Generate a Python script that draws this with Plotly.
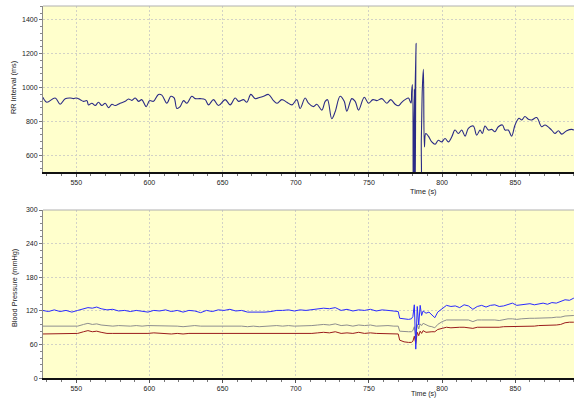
import plotly.graph_objects as go

# ---------------- RR interval (ms) ----------------
rr_time = [527.2, 529.9, 535.6, 539.0, 542.5, 545.9, 548.2, 550.0, 552.7, 555.0, 557.3, 558.4, 560.7,
           563.0, 565.2, 567.5, 569.8, 572.1, 574.4, 576.6, 580.0, 583.5, 585.7, 588.0, 590.3, 592.6,
           594.8, 597.8, 600.1, 602.8, 606.2, 608.5, 611.9, 614.7, 616.9, 618.8, 621.0, 623.3, 625.6,
           629.0, 631.3, 634.7, 638.1, 640.4, 643.8, 647.2,
           651.8, 655.2, 658.6, 660.9, 664.3, 666.6, 669.3, 672.3, 675.7, 678.0, 681.4, 684.8, 687.1,
           690.5, 693.9, 697.4, 700.7, 703.0, 706.4, 708.7, 712.1, 714.4, 717.8, 720.1, 721.7, 724.6,
           726.9, 730.3, 733.1, 734.9, 738.3, 740.6, 742.9, 746.8, 749.7, 752.7, 755.4, 758.8, 762.2,
           764.9, 767.9,
           770.1, 772.4, 774.7, 777.0, 778.1, 778.8, 779.2, 779.7, 780.3, 781.0, 781.5, 782.2, 782.9,
           784.5, 785.8, 786.5, 787.2, 787.9, 788.8, 790.6, 792.9, 795.2, 797.4, 799.7, 802.0, 804.3,
           806.6, 808.8, 811.1, 813.4, 815.7, 817.9, 821.3, 823.6, 825.9, 827.5, 829.3, 831.6, 833.9,
           836.1, 838.4, 841.2, 843.0, 845.2, 847.5, 849.8, 852.5, 854.4, 856.6, 858.9, 861.2, 864.6,
           868.0, 870.3, 874.8, 877.1, 879.4, 881.7, 885.1, 888.5, 890.1]
rr_ms = [942, 913, 938, 901, 934, 938, 934, 938, 928, 918, 922, 897, 907,
         893, 913, 893, 907, 881, 901, 893, 907, 918, 932, 924, 938, 918,
         928, 887, 922, 918, 959, 955, 907, 948, 938, 876, 887, 922, 907,
         948, 934, 934, 928, 897, 928, 893,
         928, 897, 938, 918, 928, 913, 959, 934, 942, 948, 959, 922, 907,
         928, 913, 897, 928, 876, 938, 907, 887, 901, 866, 918, 928, 815,
         856, 948, 918, 860, 934, 918, 866, 942, 907, 928, 922, 934, 907,
         928, 901,
         892, 912, 928, 938, 918, 908, 978, 1018, 300, 990, 300, 1262, 300,
         300, 700, 1000, 1108, 648, 728, 712, 678, 664, 688, 678, 698, 678,
         708, 748, 728, 748, 712, 758, 772, 718, 748, 728, 772, 748, 752,
         738, 768, 778, 748, 748, 712, 778, 818, 808, 828, 812, 808, 822,
         768, 778, 748, 728, 744, 724, 744, 752, 748]

# ---------------- Blood pressure (mmHg) ----------------
bp_time = [527, 531, 535, 539, 543, 547, 551, 555, 558, 561, 564, 567, 571, 575, 579, 583, 587, 591,
           595, 599, 603, 607, 611, 615, 619, 623, 627, 631, 635, 639, 643, 647, 651, 655, 659, 663,
           667, 671, 675, 679, 683, 687, 691, 695, 699, 703, 707, 711, 715, 719, 723, 727, 731, 735,
           739, 743, 747, 751, 755, 759, 763, 767, 770, 771, 774, 777, 779, 780, 781, 782, 783, 784,
           785, 786, 787, 789, 791, 793, 795, 797, 800, 803, 806, 809, 812, 815, 818, 821, 824, 827,
           830, 833, 836, 839, 842, 845, 848, 851, 854, 857, 860, 863, 866, 869, 872, 875, 878, 881,
           884, 887, 890]
bp_sys = [121, 119, 122, 119, 121, 118, 121, 124, 126, 125, 127, 124, 122, 123, 120, 121, 119, 121,
          120, 118, 121, 120, 122, 119, 121, 118, 121, 120, 117, 121, 119, 122, 121, 123, 120, 121,
          118, 118, 117, 118, 119, 121, 121, 122, 120, 122, 121, 122, 124, 125, 124, 126, 121, 123,
          120, 122, 121, 123, 120, 122, 121, 120, 119, 107, 106, 105, 106, 110, 131, 52, 128, 95,
          130, 112, 120, 116, 118, 113, 108, 118, 124, 130, 128, 129, 126, 131, 129, 123, 128, 130,
          127, 130, 131, 128, 129, 132, 134, 130, 131, 132, 133, 131, 133, 134, 132, 135, 134, 137,
          140, 139, 143]
bp_mean = [93, 93, 93, 93, 94, 93, 93, 96, 98, 96, 97, 95, 94, 93, 94, 93, 93, 94,
           93, 94, 94, 93, 94, 93, 93, 92, 93, 94, 93, 93, 93, 93, 94, 93, 94, 93,
           92, 93, 92, 93, 93, 94, 93, 94, 93, 93, 94, 94, 95, 96, 95, 97, 94, 95,
           93, 95, 94, 95, 93, 94, 94, 93, 93, 84, 83, 83, 83, 85, 92, 75, 96, 88,
           97, 94, 98, 95, 93, 92, 90, 96, 101, 104, 104, 104, 104, 103, 104, 101, 104, 104,
           104, 105, 104, 103, 105, 106, 106, 105, 106, 107, 107, 107, 107, 108, 107, 108, 109, 109,
           111, 112, 112]
bp_dia = [79, 79, 80, 79, 79, 79, 80, 83, 85, 83, 84, 82, 80, 80, 80, 79, 80, 79,
          80, 80, 81, 80, 80, 79, 80, 79, 80, 80, 79, 80, 79, 80, 79, 80, 79, 79,
          79, 79, 79, 79, 80, 80, 79, 80, 80, 79, 80, 80, 81, 82, 81, 83, 80, 81,
          80, 82, 80, 81, 80, 80, 80, 80, 79, 68, 65, 64, 64, 66, 75, 62, 82, 76,
          84, 80, 85, 82, 83, 83, 83, 87, 89, 91, 90, 91, 91, 91, 90, 89, 91, 91,
          91, 91, 90, 91, 92, 92, 92, 92, 92, 93, 93, 93, 94, 94, 94, 95, 95, 96,
          99, 100, 100]

x_ticks = [550, 600, 650, 700, 750, 800, 850]
rr_ticks = [600, 800, 1000, 1200, 1400]
bp_ticks = [0, 60, 120, 180, 240, 300]

W, H = 574, 398
L = 43

def py(p):  # pixel row -> paper y
    return (H - p) / H

def px(p):  # pixel column -> paper x
    return (p - L) / (W - L)

FONT = "Liberation Sans"
tickfont = dict(family=FONT, size=7, color="#222222")
GRID = "#d2d2c6"
LBL = dict(family=FONT, size=7.3, color="#222222")

fig = go.Figure()
fig.add_trace(go.Scatter(x=rr_time, y=rr_ms, mode="lines", line=dict(color="#2b2b86", width=1.1),
                         line_shape="spline", xaxis="x", yaxis="y", showlegend=False))
fig.add_trace(go.Scatter(x=bp_time, y=bp_mean, mode="lines", line=dict(color="#8e8e8e", width=1),
                         xaxis="x2", yaxis="y2", showlegend=False))
fig.add_trace(go.Scatter(x=bp_time, y=bp_dia, mode="lines", line=dict(color="#9a1c1c", width=1),
                         xaxis="x2", yaxis="y2", showlegend=False))
fig.add_trace(go.Scatter(x=bp_time, y=bp_sys, mode="lines", line=dict(color="#2a2aff", width=1),
                         xaxis="x2", yaxis="y2", showlegend=False))

def xax(anchor):
    return dict(range=[527.3, 890.1], domain=[0, 1], anchor=anchor, tickvals=x_ticks,
                automargin=False,
                showgrid=True, gridcolor=GRID, griddash="2px,2px", gridwidth=1,
                showline=True, linecolor="#111111", linewidth=1.5, ticks="outside",
                ticklen=3, tickcolor="#555555", tickfont=tickfont, zeroline=False,
                minor=dict(dtick=10, tick0=0, ticks="outside", ticklen=2, tickcolor="#777777",
                           showgrid=False))

def yax(anchor, rng, ticks, minor, dom):
    return dict(range=rng, domain=dom, anchor=anchor, tickvals=ticks,
                automargin=False,
                showgrid=True, gridcolor=GRID, griddash="2px,2px", gridwidth=1,
                showline=True, linecolor="#8a8a8a", linewidth=1, mirror=False,
                ticks="outside", ticklen=3, tickcolor="#777777", tickfont=tickfont,
                zeroline=False,
                minor=dict(dtick=minor, tick0=0, ticks="outside", ticklen=2,
                           tickcolor="#888888", showgrid=False))

def ann(text, x, y, angle=0, size=7.3):
    return dict(text=text, x=px(x), y=py(y), xref="paper", yref="paper",
                xanchor="center", yanchor="middle", textangle=angle, showarrow=False,
                font=dict(family=FONT, size=size, color="#222222"))

fig.update_layout(
    width=W, height=H,
    margin=dict(l=L, r=0, t=0, b=0, autoexpand=False),
    paper_bgcolor="white",
    plot_bgcolor="#FFFFCC",
    xaxis=xax("y"),
    yaxis=yax("x", [500, 1482], rr_ticks, 40, [py(172), py(6)]),
    xaxis2=xax("y2"),
    yaxis2=yax("x2", [0, 300], bp_ticks, 12, [py(378.3), py(210)]),
    shapes=[
        dict(type="line", xref="paper", yref="paper", x0=0, x1=1, y0=py(6), y1=py(6),
             line=dict(color="#b0b0b0", width=1)),
        dict(type="line", xref="paper", yref="paper", x0=0, x1=1, y0=py(210), y1=py(210),
             line=dict(color="#b0b0b0", width=1)),
    ],
    annotations=[
        ann("RR Interval (ms)", 14, 88, -90),
        ann("Blood Pressure (mmHg)", 14, 288, -90),
        ann("Time (s)", 423, 191),
        ann("Time (s)", 423, 394, 0, 7),
    ],
)

fig.write_html("out.html", config={"displayModeBar": False},
               post_script="document.body.style.margin='0px';document.body.style.overflow='hidden';")
